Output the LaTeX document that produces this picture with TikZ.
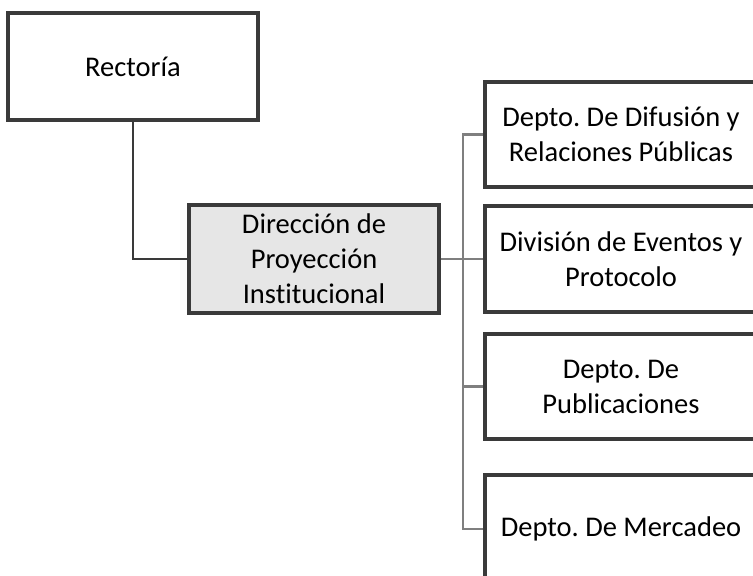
\documentclass[tikz,border=0pt]{standalone}
\usepackage{fontspec}
\setmainfont{Carlito}[Ligatures=NoCommon]
\frenchspacing
\definecolor{boxline}{HTML}{3A3A3A}
\definecolor{busline}{HTML}{7F7F7F}
\definecolor{dirfill}{HTML}{E6E6E6}
\begin{document}
\begin{tikzpicture}[x=1pt,y=-1pt,
  box/.style={draw=boxline,line width=3.2pt,fill=white,align=center,inner sep=0pt,
    font=\fontsize{28.5}{35}\selectfont},
  leftbox/.style={box,minimum width=250pt,minimum height=107pt},
  rightbox/.style={box,minimum width=272pt,minimum height=105pt},
  darkconn/.style={draw=boxline,line width=2.8pt},
  busconn/.style={draw=busline,line width=2.6pt}]
\clip (0,0) rectangle (753,576);
\fill[white] (0,0) rectangle (753,576);
\coordinate (bx) at (463,0);
\node[leftbox] (rect) at (133,66.5) {Rectoría};
\node[leftbox,fill=dirfill,minimum height=108pt] (dir) at (314,259) {Dirección de\\Proyección\\Institucional};
\node[rightbox] (b1) at (621,134.5) {Depto. De Difusión y\\Relaciones Públicas};
\node[rightbox,minimum height=106pt] (b2) at (621,259) {División de Eventos y\\Protocolo};
\node[rightbox] (b3) at (621,386.5) {Depto. De\\Publicaciones};
\node[rightbox,minimum height=108pt] (b4) at (621,529) {Depto. De Mercadeo};
\draw[darkconn] (rect.south) |- (dir.west);
\draw[busconn] (dir.east) -- (b2.west);
\draw[busconn] (b1.west) -- (b1.west -| bx) -- (b4.west -| bx) -- (b4.west);
\draw[busconn] (b3.west) -- (b3.west -| bx);
\end{tikzpicture}
\end{document}
